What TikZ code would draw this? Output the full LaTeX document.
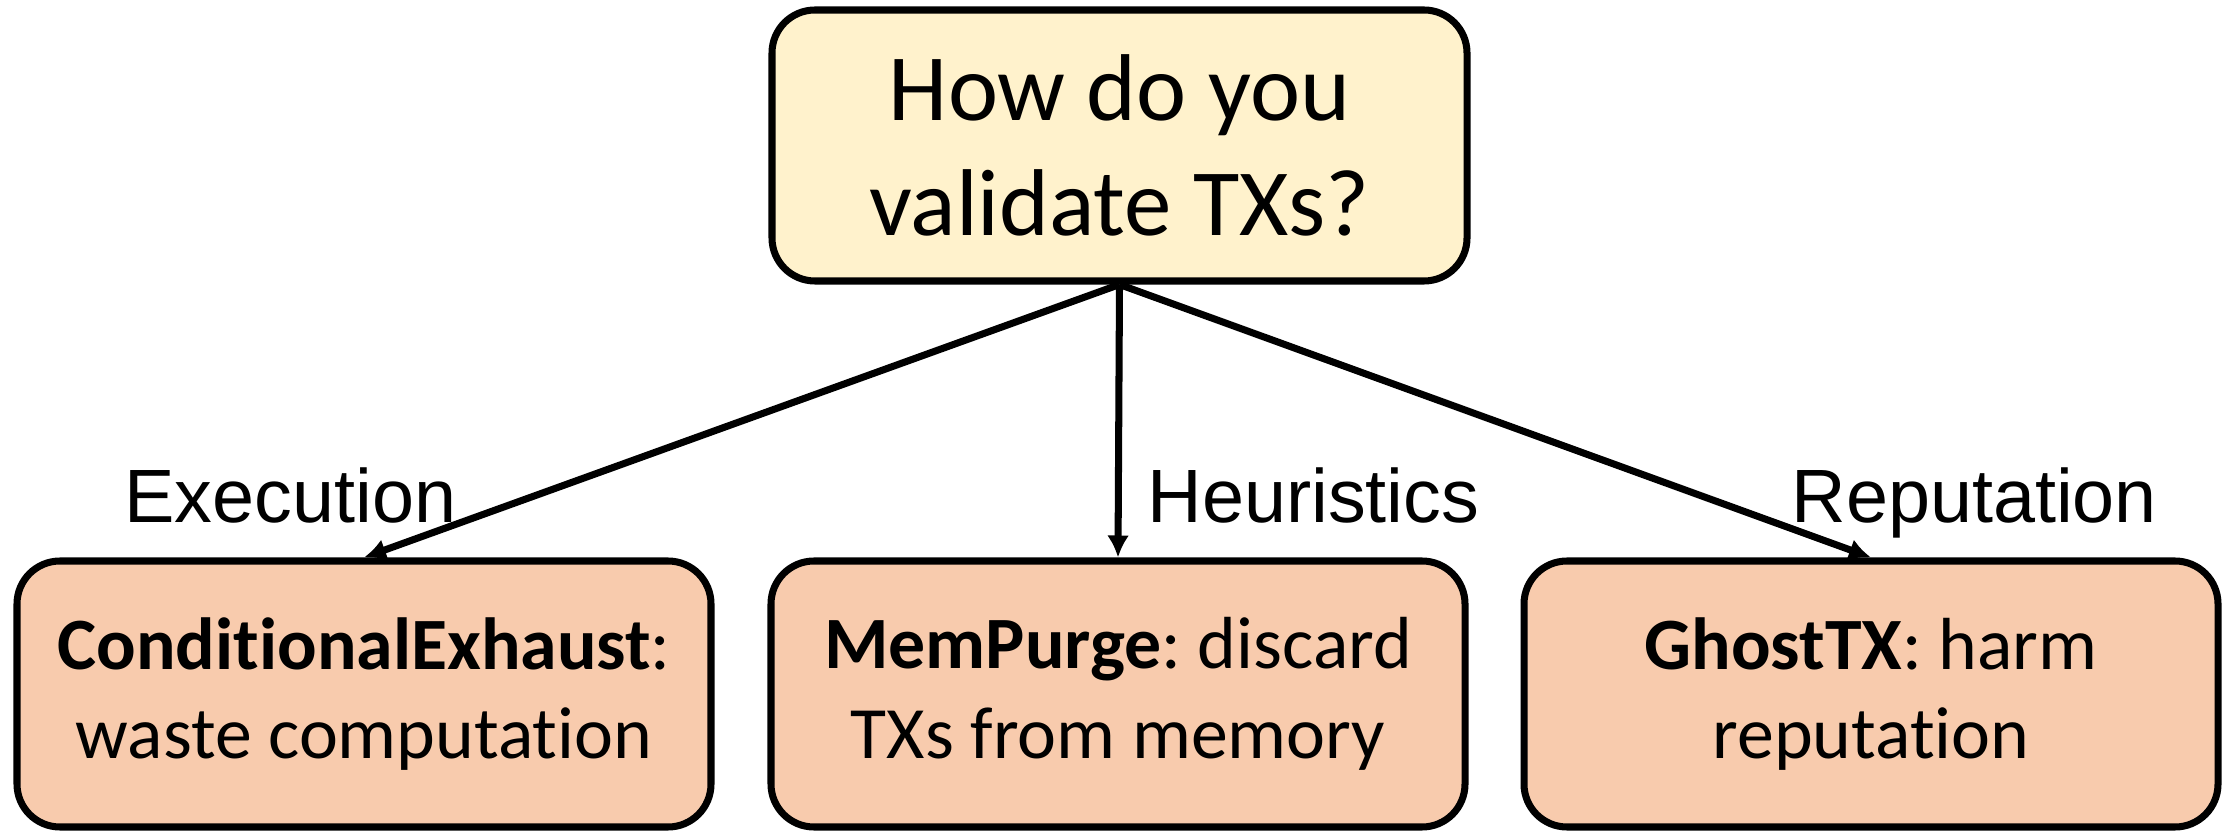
\documentclass[tikz,border=0pt]{standalone}
\usepackage{fontspec}
\setmainfont[Ligatures=NoCommon]{Carlito}
\newfontfamily\arialfont{Liberation Sans}
\usetikzlibrary{arrows.meta}
\definecolor{qfill}{HTML}{FFF2CC}
\definecolor{afill}{HTML}{F8CBAD}
\frenchspacing

\begin{document}
\begin{tikzpicture}[
       line width=2pt,
       >={Latex[length=0.22cm,width=0.22cm]},
       question/.style={
         rectangle,
         rounded corners=0.43cm,
         draw=black,
         fill=qfill,
         align=center,
         minimum width=6.95cm,
         minimum height=2.71cm,
         font=\fontsize{27}{32.5}\selectfont
       },
       attack/.style={
         rectangle,
         rounded corners=0.43cm,
         draw=black,
         fill=afill,
         align=center,
         minimum width=6.94cm,
         minimum height=2.66cm,
         font=\fontsize{21}{25.5}\selectfont
       },
       route/.style={
         anchor=base west,
         inner sep=0pt,
         font=\arialfont\fontsize{21.5}{26}\selectfont
       }
     ]

       \useasboundingbox (0,0) rectangle (22.29,-8.32);

       \node (q) at (11.195,-1.455) [question]{How do you\\validate TXs?};

       \node (b1) at (3.64,-6.94) [attack]{\textbf{ConditionalExhaust}:\\waste computation};
       \node (b2) at (11.18,-6.94) [attack]{\textbf{MemPurge}: discard\\TXs from memory};
       \node (b3) at (18.71,-6.94) [attack]{\textbf{GhostTX}: harm\\reputation};

       \node (l1) at (1.21,-5.23) [route]{Execution};
       \node (l2) at (11.44,-5.23) [route]{Heuristics};
       \node (l3) at (17.88,-5.23) [route]{Reputation};

       \draw[->] (q.south) -- (b1.north);
       \draw[->] (q.south) -- (b2.north);
       \draw[->] (q.south) -- (b3.north);

\end{tikzpicture}
\end{document}
